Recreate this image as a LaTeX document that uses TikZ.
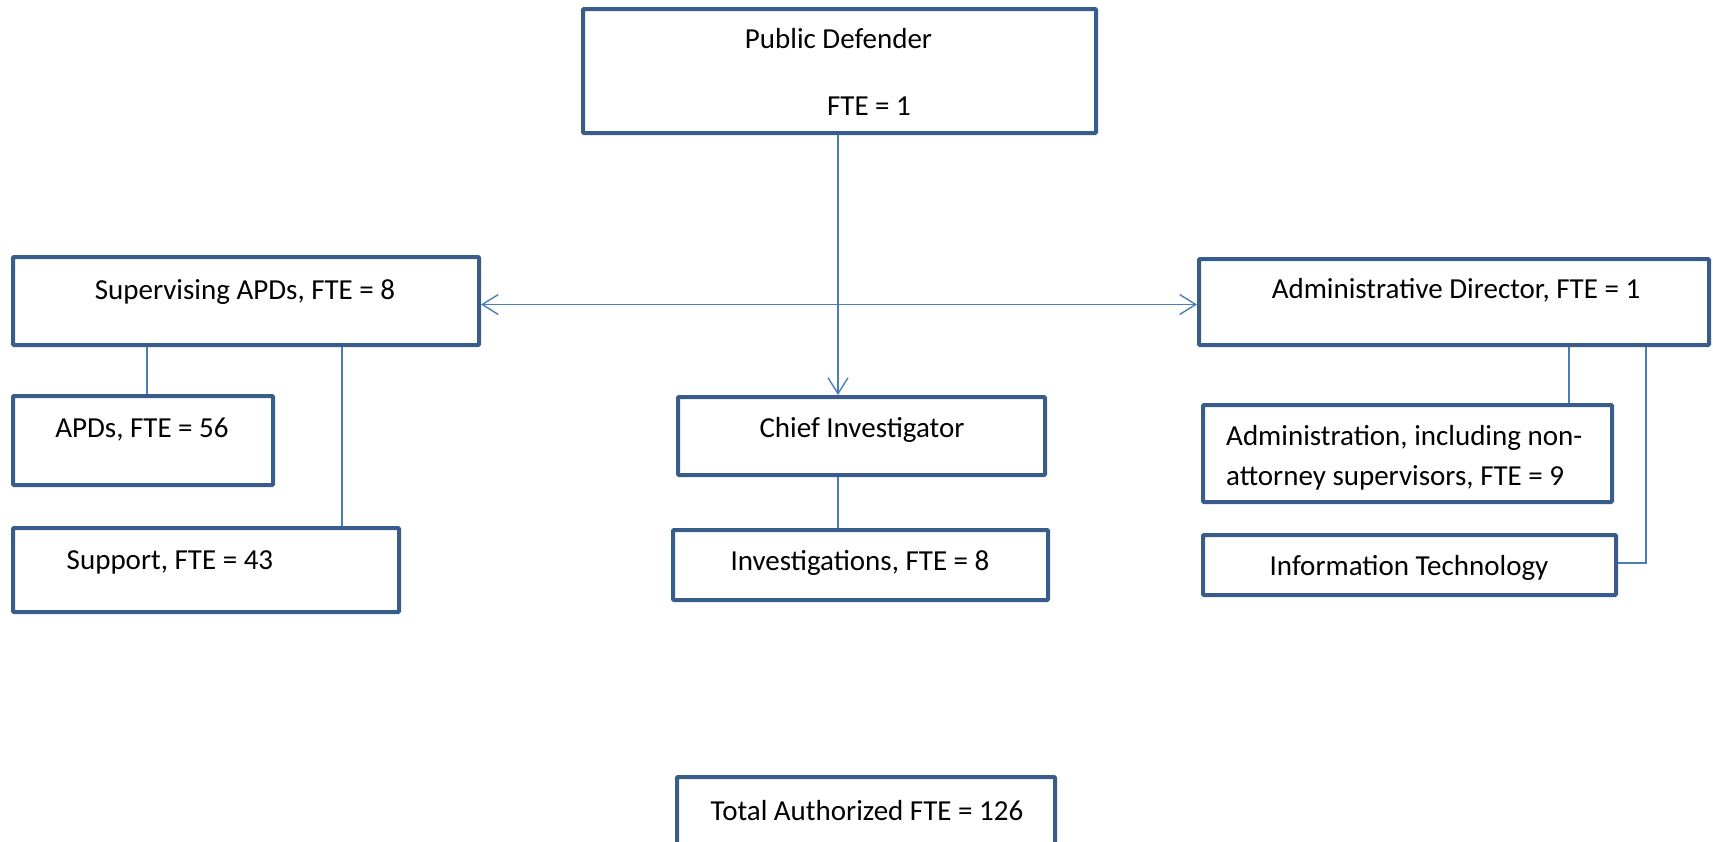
\documentclass[tikz,border=0pt]{standalone}
\usepackage{fontspec}
\setmainfont{Carlito}
\usetikzlibrary{arrows.meta}
\definecolor{boxblue}{HTML}{385D8A}
\definecolor{lineblue}{HTML}{4A7EBB}
\tikzset{
  box/.style={draw=boxblue, line width=4pt, rectangle, inner sep=0pt, rounded corners=1pt},
  lbl/.style={anchor=base, inner sep=0pt, font=\fontsize{29}{35}\selectfont},
  lbll/.style={anchor=base west, inner sep=0pt, font=\fontsize{29}{35}\selectfont},
  conn/.style={draw=lineblue, line width=1.4pt},
  arr/.style={conn, -{Straight Barb[length=16pt,width=20pt,line width=1.4pt]}},
  darr/.style={conn, {Straight Barb[length=16pt,width=20pt,line width=1.4pt]}-{Straight Barb[length=16pt,width=20pt,line width=1.4pt]}}
}
\begin{document}
\begin{tikzpicture}[x=1pt,y=-1pt]
\useasboundingbox (0,0) rectangle (1713,841);
\clip (0,0) rectangle (1713,841);
% boxes
\node[box, minimum width=513pt, minimum height=124pt] (pd) at (839.5,71) {};
\node[box, minimum width=466pt, minimum height=88pt] (sup) at (246,301) {};
\node[box, minimum width=260pt, minimum height=89pt] (apds) at (143,440.5) {};
\node[box, minimum width=386pt, minimum height=84pt] (supp) at (206,570) {};
\node[box, minimum width=367pt, minimum height=78pt] (chief) at (861.5,436) {};
\node[box, minimum width=375pt, minimum height=70pt] (inv) at (860.5,565) {};
\node[box, minimum width=510pt, minimum height=86pt] (adm) at (1454,302) {};
\node[box, minimum width=409pt, minimum height=97pt] (admin) at (1407.5,453.5) {};
\node[box, minimum width=413pt, minimum height=60pt] (it) at (1409.5,565) {};
\node[box, minimum width=378pt, minimum height=83pt] (tot) at (866,818.5) {};
% texts
\node[lbl] (tpd1) at (838.5,48) {Public Defender};
\node[lbl] (tpd2) at (869,115) {FTE = 1};
\node[lbl] (tsup) at (245,299) {Supervising APDs, FTE = 8};
\node[lbl] (tapds) at (142,437) {APDs, FTE = 56};
\node[lbl] (tsupp) at (170,569) {Support, FTE = 43};
\node[lbl] (tchief) at (862,437) {Chief Investigator};
\node[lbl] (tinv) at (860,570) {Investigations, FTE = 8};
\node[lbl] (tadm) at (1456,298) {Administrative Director, FTE = 1};
\begin{scope}
\clip (1205,407) rectangle (1610,489);
\node[lbll] (tadmin1) at (1226,445) {Administration, including non-};
\node[lbll] (tadmin2) at (1226,485) {attorney supervisors, FTE = 9};
\end{scope}
\node[lbl] (tit) at (1409,575) {Information Technology};
\node[lbl] (ttot) at (867,820) {Total Authorized FTE = 126};
% connectors
\coordinate (cx) at (838,0);
\coordinate (hy) at (0,304.5);
\coordinate (sx1) at (147,0);
\coordinate (sx2) at (342,0);
\coordinate (ax1) at (1569,0);
\coordinate (ax2) at (1646,0);
\draw[arr] (pd.south -| cx) -- (chief.north -| cx);
\draw[darr] (sup.east |- hy) -- (adm.west |- hy);
\draw[conn] (sup.south -| sx1) -- (apds.north -| sx1);
\draw[conn] (sup.south -| sx2) -- (supp.north -| sx2);
\draw[conn] (chief.south -| cx) -- (inv.north -| cx);
\draw[conn] (adm.south -| ax1) -- (admin.north -| ax1);
\draw[conn] (adm.south -| ax2) |- ([yshift=2pt]it.east);
\end{tikzpicture}
\end{document}
